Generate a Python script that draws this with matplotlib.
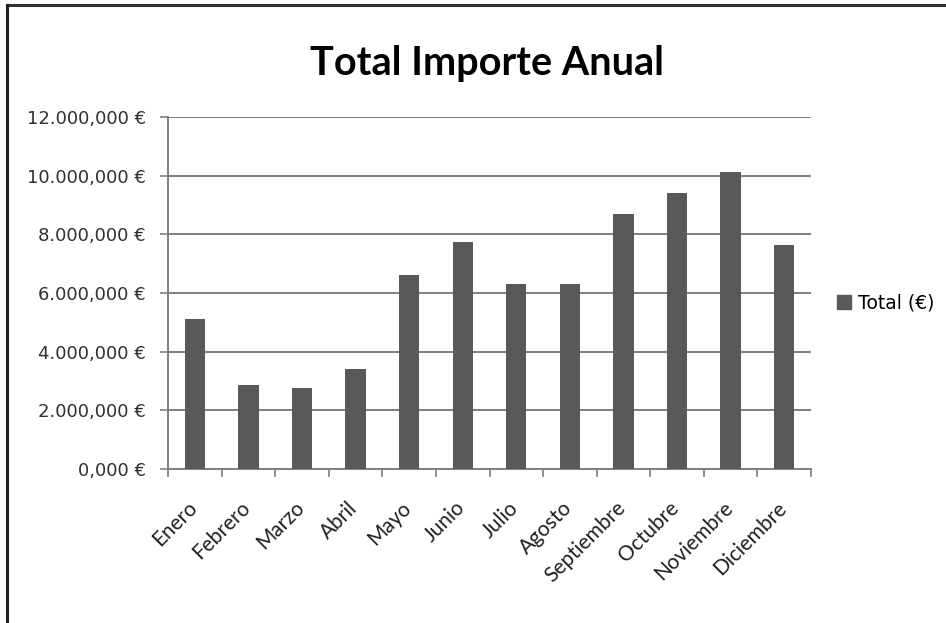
import matplotlib
matplotlib.use("Agg")
import matplotlib.pyplot as plt
import matplotlib.transforms as mtransforms
from matplotlib.lines import Line2D

months = ["Enero", "Febrero", "Marzo", "Abril", "Mayo", "Junio", "Julio",
          "Agosto", "Septiembre", "Octubre", "Noviembre", "Diciembre"]
totals = [5120000, 2870000, 2760000, 3410000, 6620000, 7740000, 6320000,
          6320000, 8690000, 9400000, 10130000, 7620000]
y_ticks = [0, 2000000, 4000000, 6000000, 8000000, 10000000, 12000000]
y_tick_labels = ["0,000 €", "2.000,000 €", "4.000,000 €", "6.000,000 €",
                 "8.000,000 €", "10.000,000 €", "12.000,000 €"]
series_name = "Total (€)"
title = "Total Importe Anual"

bar_color = "#595959"
grid_color = "#7f7f7f"

fig = plt.figure(figsize=(9.46, 6.23), dpi=100)
ax = fig.add_axes([0.1776, 0.2472, 0.6797, 0.5650])

x = list(range(len(months)))
ax.bar(x, totals, width=0.38, color=bar_color, zorder=3, label=series_name)

ax.set_xlim(-0.5, len(months) - 0.5)
ax.set_ylim(0, 12000000)
ax.set_yticks(y_ticks)
ax.set_yticklabels(y_tick_labels, fontsize=13, color="#303030", family="DejaVu Sans")
ax.yaxis.grid(True, color=grid_color, linewidth=1.4, zorder=0)
ax.set_axisbelow(True)

ax.set_xticks(x)
ax.set_xticklabels(months, rotation=45, ha="right", va="top", rotation_mode="anchor",
                   fontsize=15, family="Lato", color="#202020")
ax.tick_params(axis="x", length=0, pad=12)
offset = mtransforms.ScaledTranslation(-8 / 100, -12 / 100, fig.dpi_scale_trans)
for lbl in ax.get_xticklabels():
    lbl.set_transform(lbl.get_transform() + offset)
# category boundary ticks
ax.set_xticks([i - 0.5 for i in range(len(months) + 1)], minor=True)
ax.tick_params(axis="x", which="minor", length=6, color=grid_color, width=1.2, direction="out")
ax.tick_params(axis="y", length=6, color=grid_color, width=1.2, direction="out", pad=10)

for s in ["top", "right"]:
    ax.spines[s].set_visible(False)
for s in ["left", "bottom"]:
    ax.spines[s].set_color(grid_color)
    ax.spines[s].set_linewidth(1.4)

fig.text(0.515, 0.898, title, ha="center", va="center", fontsize=28.5,
         fontweight="bold", family="Lato", color="#000000")

leg = fig.legend(handles=[plt.Rectangle((0, 0), 1, 1, color=bar_color)],
                 labels=[series_name], loc="center left", bbox_to_anchor=(0.885, 0.513),
                 frameon=False, handlelength=0.75, handleheight=0.75, handletextpad=0.35,
                 borderaxespad=0, borderpad=0,
                 prop={"family": "DejaVu Sans", "size": 13.5})

# figure border (top and left)
fig.add_artist(Line2D([0.007, 1.0], [0.992, 0.992], transform=fig.transFigure,
                      color="#333333", linewidth=2.2))
fig.add_artist(Line2D([0.007, 0.007], [0.0, 0.992], transform=fig.transFigure,
                      color="#222222", linewidth=2.2))

fig.savefig("out.png", dpi=100)
